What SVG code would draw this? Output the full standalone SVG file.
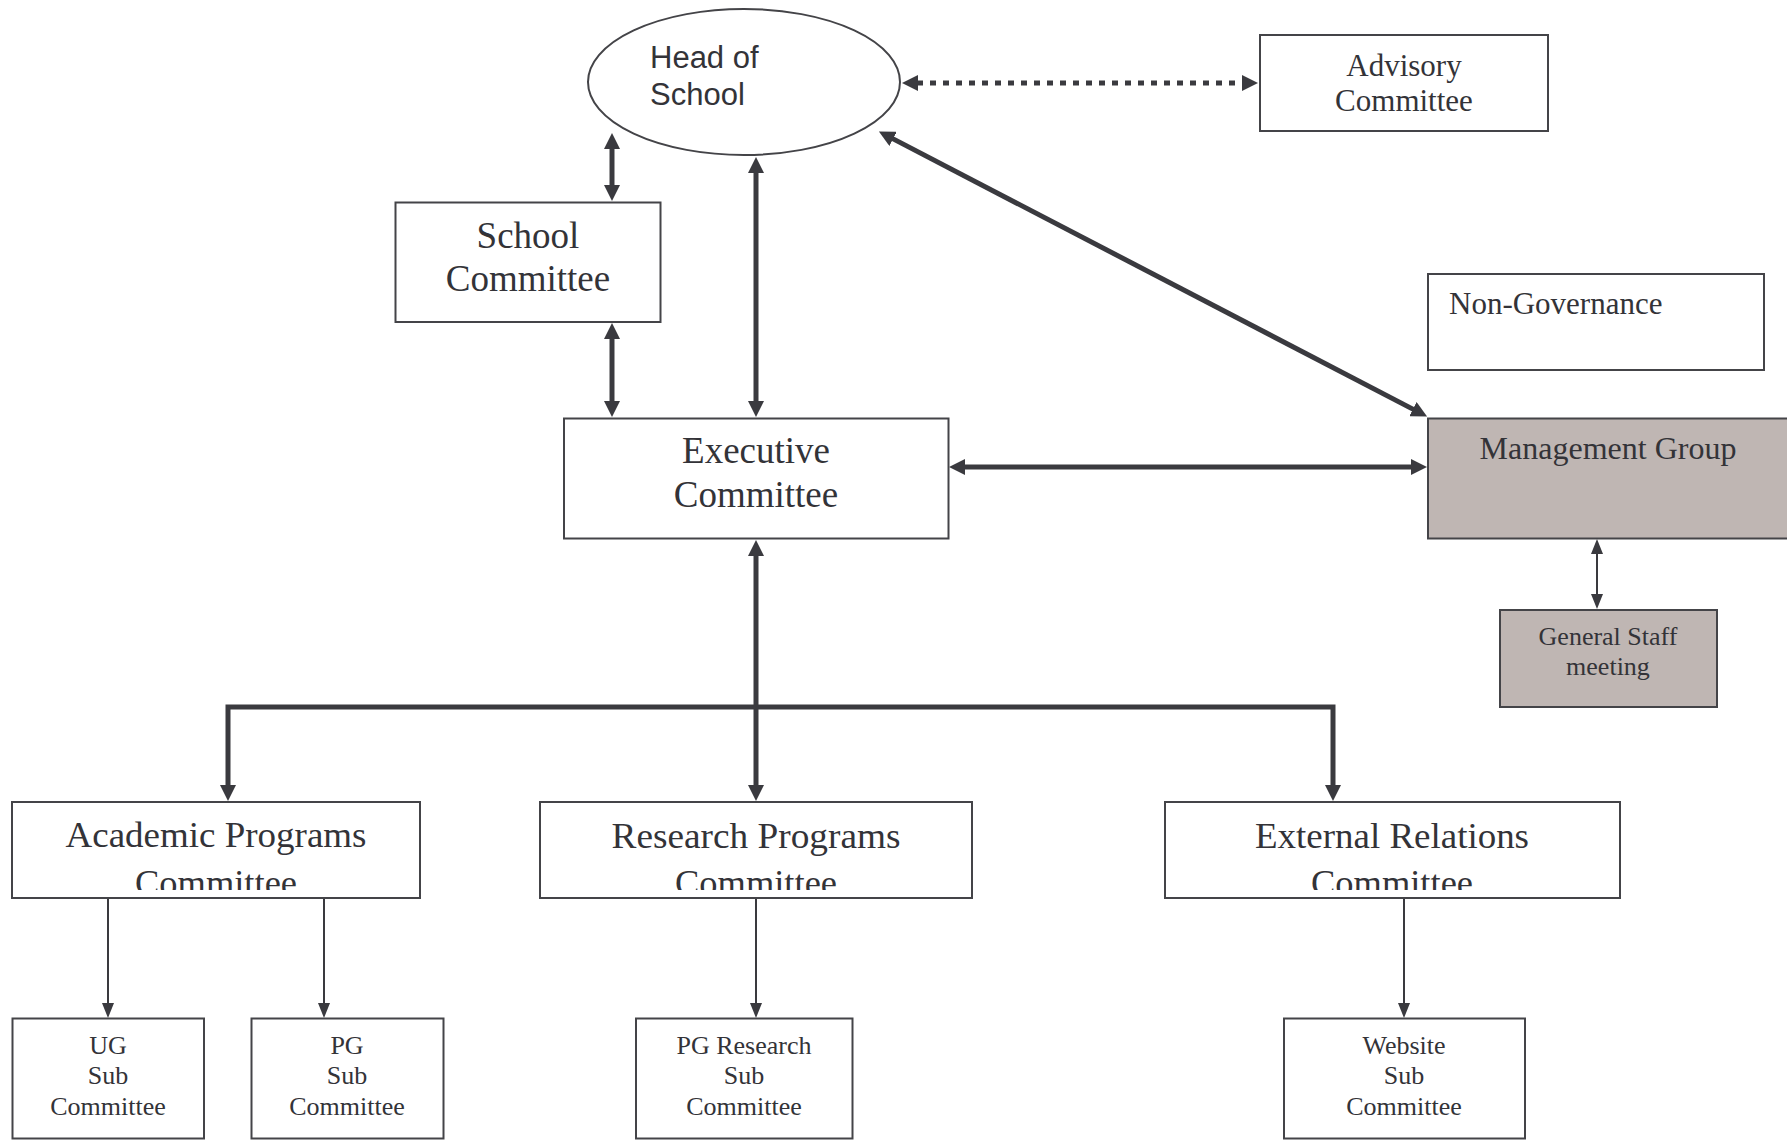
<svg xmlns="http://www.w3.org/2000/svg" width="1787" height="1144" viewBox="0 0 1787 1144">
<style>
.box{fill:#ffffff;stroke:#444448;stroke-width:2}
.grey{fill:#bfb6b3;stroke:#444448;stroke-width:2}
.t{font-family:"Liberation Serif","Times New Roman",serif;fill:#333338;text-anchor:middle}
.s{font-family:"Liberation Sans",Arial,sans-serif;fill:#333338}
.thick{stroke:#3a3a3f;stroke-width:5;fill:none}
.thin{stroke:#3a3a3f;stroke-width:2;fill:none}
.dot{stroke:#3a3a3f;stroke-width:5;fill:none;stroke-dasharray:6 7}
</style>
<defs>
<marker id="ah" markerUnits="userSpaceOnUse" viewBox="0 0 16 16" markerWidth="16" markerHeight="16" refX="1" refY="8" orient="auto-start-reverse">
<path d="M0,0 L16,8 L0,16 z" fill="#3a3a3f"/>
</marker>
<marker id="ahs" markerUnits="userSpaceOnUse" viewBox="0 0 15 12" markerWidth="15" markerHeight="12" refX="1" refY="6" orient="auto-start-reverse">
<path d="M0,0 L15,6 L0,12 z" fill="#3a3a3f"/>
</marker>
<clipPath id="cut" clipPathUnits="userSpaceOnUse"><rect x="0" y="0" width="1787" height="890"/></clipPath>
</defs>

<g id="connectors">
<line class="dot" x1="917" y1="83" x2="1243" y2="83" marker-start="url(#ah)" marker-end="url(#ah)"/>
<line class="thick" x1="612" y1="148" x2="612" y2="186" marker-start="url(#ah)" marker-end="url(#ah)"/>
<line class="thick" x1="612" y1="338" x2="612" y2="402" marker-start="url(#ah)" marker-end="url(#ah)"/>
<line class="thick" x1="756" y1="172" x2="756" y2="402" marker-start="url(#ah)" marker-end="url(#ah)"/>
<line class="thick" x1="892.2" y1="138.4" x2="1413.8" y2="409.6" marker-start="url(#ah)" marker-end="url(#ah)"/>
<line class="thick" x1="964" y1="467" x2="1412" y2="467" marker-start="url(#ah)" marker-end="url(#ah)"/>
<line class="thin" x1="1597" y1="553" x2="1597" y2="595" marker-start="url(#ahs)" marker-end="url(#ahs)"/>
<line class="thick" x1="756" y1="555" x2="756" y2="786" marker-start="url(#ah)" marker-end="url(#ah)"/>
<path class="thick" d="M228,786 L228,707 L1333,707 L1333,786" marker-start="url(#ah)" marker-end="url(#ah)"/>
<line class="thin" x1="108" y1="898" x2="108" y2="1004" marker-end="url(#ahs)"/>
<line class="thin" x1="324" y1="898" x2="324" y2="1004" marker-end="url(#ahs)"/>
<line class="thin" x1="756" y1="898" x2="756" y2="1004" marker-end="url(#ahs)"/>
<line class="thin" x1="1404" y1="898" x2="1404" y2="1004" marker-end="url(#ahs)"/>
</g>

<g id="head">
<ellipse cx="744" cy="82" rx="156" ry="73" fill="#ffffff" stroke="#444448" stroke-width="2"/>
<text class="s" font-size="31" x="650" y="68">Head of</text>
<text class="s" font-size="31" x="650" y="105">School</text>
</g>

<g id="advisory">
<rect class="box" x="1260" y="35" width="288" height="96"/>
<text class="t" font-size="31" x="1404" y="76">Advisory</text>
<text class="t" font-size="31" x="1404" y="111">Committee</text>
</g>

<g id="school">
<rect class="box" x="395.5" y="202.5" width="265" height="119.5"/>
<text class="t" font-size="37" x="528" y="248">School</text>
<text class="t" font-size="37" x="528" y="291">Committee</text>
</g>

<g id="executive">
<rect class="box" x="564" y="418.5" width="384.5" height="120"/>
<text class="t" font-size="37" x="756" y="463">Executive</text>
<text class="t" font-size="37" x="756" y="507">Committee</text>
</g>

<g id="nongov">
<rect class="box" x="1428" y="274" width="336" height="96"/>
<text class="t" font-size="31" x="1449" y="314" style="text-anchor:start">Non-Governance</text>
</g>

<g id="management">
<rect class="grey" x="1428" y="418.5" width="372" height="120"/>
<text class="t" font-size="32" x="1608" y="459">Management Group</text>
</g>

<g id="generalstaff">
<rect class="grey" x="1500" y="610" width="217" height="97"/>
<text class="t" font-size="26" x="1608" y="645">General Staff</text>
<text class="t" font-size="26" x="1608" y="675">meeting</text>
</g>

<g id="academic">
<rect class="box" x="12" y="802" width="408" height="96"/>
<text class="t" font-size="35" x="216" y="847" textLength="301" lengthAdjust="spacingAndGlyphs">Academic Programs</text>
<text class="t" font-size="35" x="216" y="895" clip-path="url(#cut)" textLength="162" lengthAdjust="spacingAndGlyphs">Committee</text>
</g>

<g id="research">
<rect class="box" x="540" y="802" width="432" height="96"/>
<text class="t" font-size="35" x="756" y="848" textLength="289" lengthAdjust="spacingAndGlyphs">Research Programs</text>
<text class="t" font-size="35" x="756" y="895" clip-path="url(#cut)" textLength="162" lengthAdjust="spacingAndGlyphs">Committee</text>
</g>

<g id="external">
<rect class="box" x="1165" y="802" width="455" height="96"/>
<text class="t" font-size="35" x="1392" y="848" textLength="274" lengthAdjust="spacingAndGlyphs">External Relations</text>
<text class="t" font-size="35" x="1392" y="895" clip-path="url(#cut)" textLength="162" lengthAdjust="spacingAndGlyphs">Committee</text>
</g>

<g id="ug">
<rect class="box" x="12.5" y="1018.5" width="191.5" height="120"/>
<text class="t" font-size="26" x="108" y="1054">UG</text>
<text class="t" font-size="26" x="108" y="1084">Sub</text>
<text class="t" font-size="26" x="108" y="1115">Committee</text>
</g>

<g id="pg">
<rect class="box" x="251.5" y="1018.5" width="192" height="120"/>
<text class="t" font-size="26" x="347" y="1054">PG</text>
<text class="t" font-size="26" x="347" y="1084">Sub</text>
<text class="t" font-size="26" x="347" y="1115">Committee</text>
</g>

<g id="pgresearch">
<rect class="box" x="636" y="1018.5" width="216.5" height="120"/>
<text class="t" font-size="26" x="744" y="1054">PG Research</text>
<text class="t" font-size="26" x="744" y="1084">Sub</text>
<text class="t" font-size="26" x="744" y="1115">Committee</text>
</g>

<g id="website">
<rect class="box" x="1284" y="1018.5" width="241" height="120"/>
<text class="t" font-size="26" x="1404" y="1054">Website</text>
<text class="t" font-size="26" x="1404" y="1084">Sub</text>
<text class="t" font-size="26" x="1404" y="1115">Committee</text>
</g>
</svg>
